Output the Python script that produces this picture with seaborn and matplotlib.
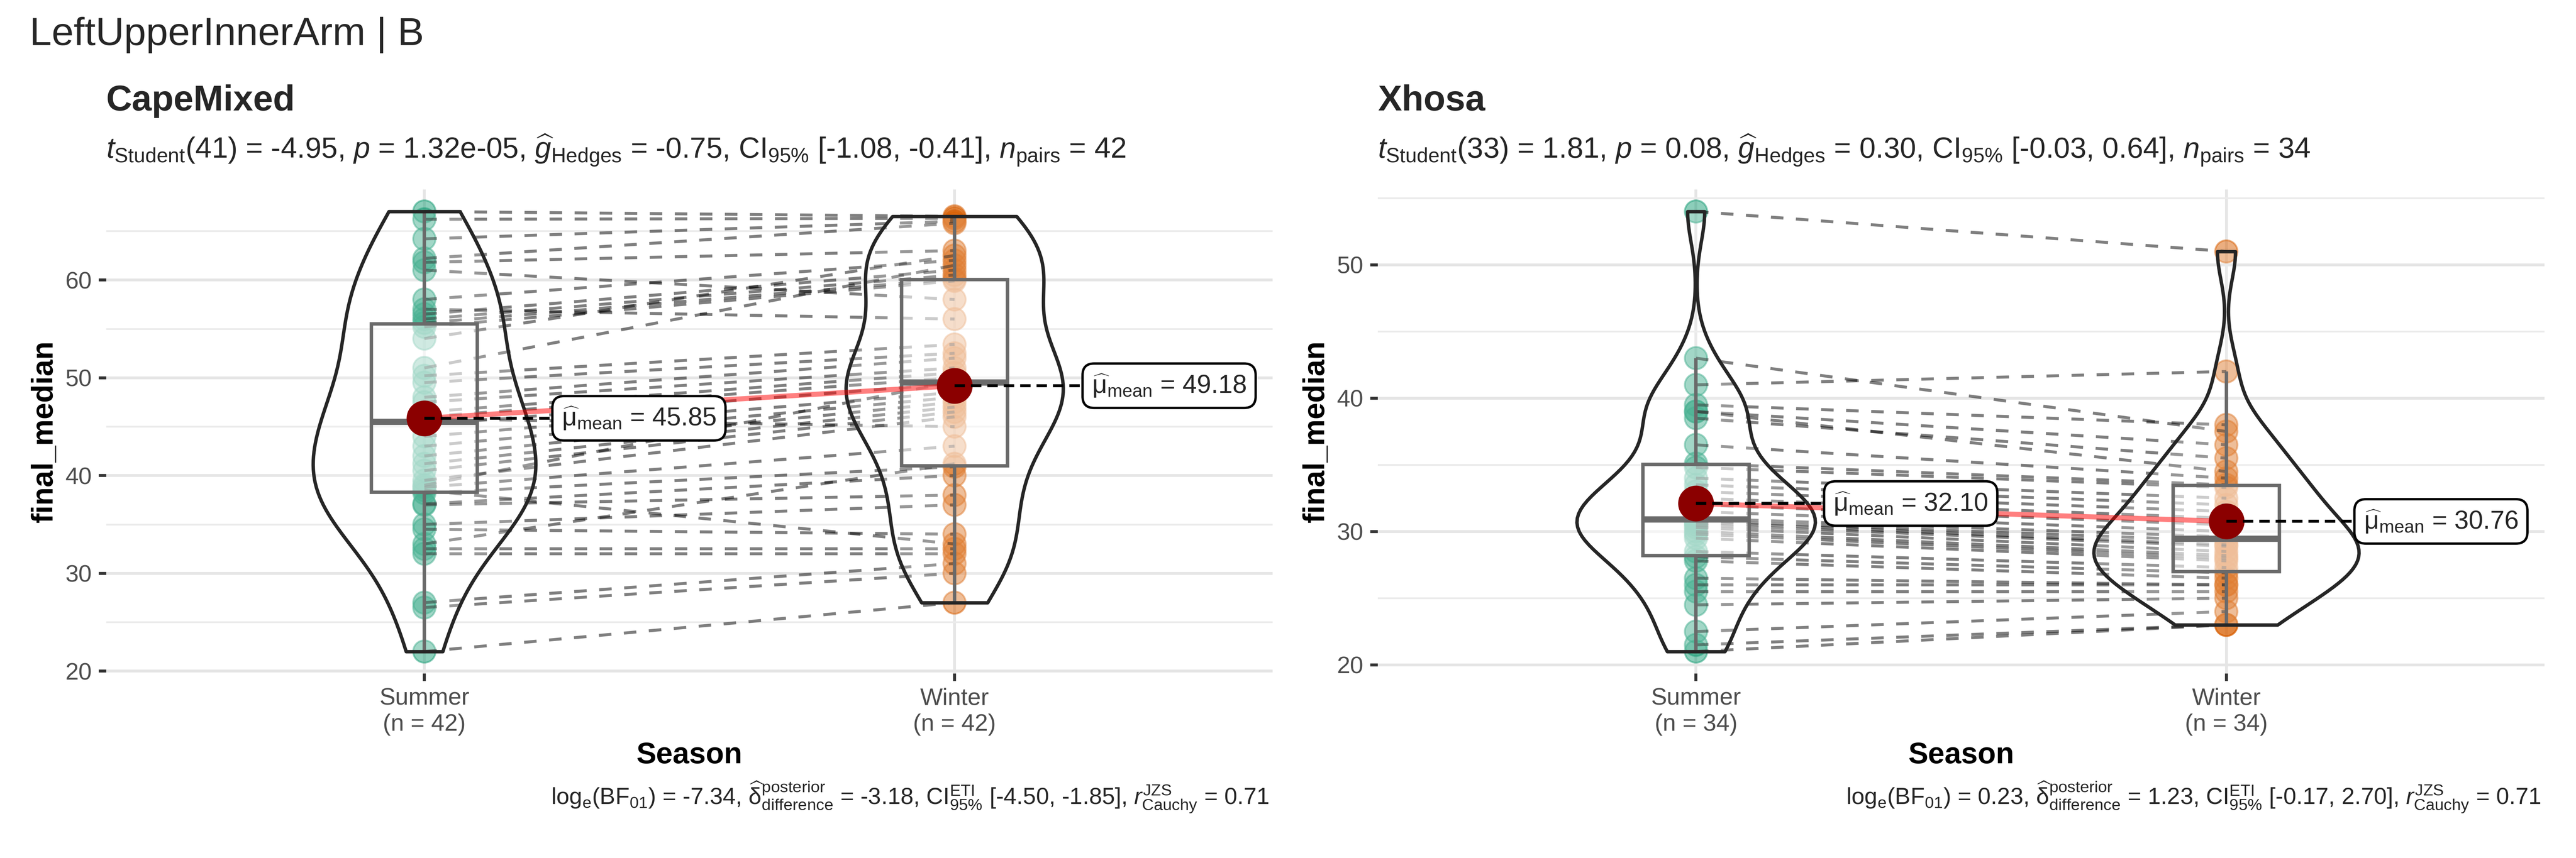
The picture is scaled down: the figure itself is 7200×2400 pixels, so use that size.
import numpy as np
import pandas as pd
import matplotlib
matplotlib.use("Agg")
import matplotlib.pyplot as plt
import seaborn as sns

# ------------------------------------------------------------
# data (one value per subject; the i-th
# summer value and the i-th winter value belong to the same subject)
# ------------------------------------------------------------
seasons = ["Summer", "Winter"]
season_colors = {"Summer": "#1B9E77", "Winter": "#D95F02"}

cape_summer = [67.0, 66.2, 64.2, 62.2, 61.8, 61.0, 58.0, 57.0, 56.5, 56.0,
               55.6, 55.2, 54.0, 51.0, 50.2, 49.5, 48.0, 47.5, 46.5, 46.0,
               45.8, 45.2, 44.0, 43.0, 42.0, 41.2, 40.5, 39.5, 39.0, 38.8,
               38.5, 38.2, 37.1, 37.0, 35.0, 34.5, 33.0, 32.5, 32.0, 27.0,
               26.5, 22.0]
cape_winter = [66.5, 66.3, 66.0, 65.8, 63.0, 58.0, 62.0, 56.0, 61.0, 60.5,
               60.1, 59.9, 62.5, 61.5, 53.4, 52.5, 52.0, 51.0, 50.5, 50.0,
               45.0, 49.4, 48.5, 48.0, 47.5, 47.0, 46.5, 46.0, 49.6, 43.0,
               33.0, 40.9, 40.0, 38.0, 37.0, 34.0, 41.2, 32.5, 32.0, 31.0,
               30.0, 27.0]

xhosa_summer = [54.0, 43.0, 41.0, 39.5, 39.0, 39.0, 38.5, 36.5, 35.1, 34.8,
                34.0, 33.5, 33.0, 32.5, 32.0, 31.5, 31.0, 30.8, 30.7, 30.5,
                30.3, 30.0, 29.8, 29.5, 28.5, 28.1, 27.8, 26.5, 26.0, 25.5,
                24.5, 22.5, 21.5, 21.0]
xhosa_winter = [51.0, 37.5, 42.0, 38.0, 34.5, 36.5, 35.5, 34.0, 33.5, 33.3,
                32.5, 32.0, 31.5, 31.0, 30.5, 30.0, 29.6, 29.3, 29.0, 28.9,
                28.5, 28.2, 28.0, 27.8, 27.3, 26.9, 26.5, 26.0, 26.0, 25.5,
                25.0, 24.0, 23.0, 23.0]

groups = ["CapeMixed", "Xhosa"]
subtitles = [
    r"$t_{\mathrm{Student}}$(41) = -4.95, $p$ = 1.32e-05, $\widehat{g}_{\mathrm{Hedges}}$ = -0.75, "
    r"CI$_{\mathrm{95\%}}$ [-1.08, -0.41], $n_{\mathrm{pairs}}$ = 42",
    r"$t_{\mathrm{Student}}$(33) = 1.81, $p$ = 0.08, $\widehat{g}_{\mathrm{Hedges}}$ = 0.30, "
    r"CI$_{\mathrm{95\%}}$ [-0.03, 0.64], $n_{\mathrm{pairs}}$ = 34",
]
captions = [
    r"log$_{\mathrm{e}}$(BF$_{\mathrm{01}}$) = -7.34, $\widehat{\mathrm{\delta}}_{\mathrm{difference}}^{\mathrm{posterior}}$ = -3.18, "
    r"CI$_{\mathrm{95\%}}^{\mathrm{ETI}}$ [-4.50, -1.85], $r_{\mathrm{Cauchy}}^{\mathrm{JZS}}$ = 0.71",
    r"log$_{\mathrm{e}}$(BF$_{\mathrm{01}}$) = 0.23, $\widehat{\mathrm{\delta}}_{\mathrm{difference}}^{\mathrm{posterior}}$ = 1.23, "
    r"CI$_{\mathrm{95\%}}^{\mathrm{ETI}}$ [-0.17, 2.70], $r_{\mathrm{Cauchy}}^{\mathrm{JZS}}$ = 0.71",
]
y_major = [[20, 30, 40, 50, 60], [20, 30, 40, 50]]
y_minor = [[25, 35, 45, 55, 65], [25, 35, 45, 55]]
main_title = "LeftUpperInnerArm | B"

panel_data = {"CapeMixed": (cape_summer, cape_winter),
              "Xhosa": (xhosa_summer, xhosa_winter)}
violin_width = {"CapeMixed": 0.42, "Xhosa": 0.5}

# ------------------------------------------------------------
# style
# ------------------------------------------------------------
sns.set_theme(style="white")
plt.rcParams["font.family"] = ["Liberation Sans", "DejaVu Sans"]
plt.rcParams["mathtext.fontset"] = "custom"
plt.rcParams["mathtext.rm"] = "Liberation Sans"
plt.rcParams["mathtext.it"] = "Liberation Sans:italic"
plt.rcParams["mathtext.bf"] = "Liberation Sans:bold"
plt.rcParams["mathtext.sf"] = "Liberation Sans"


def nrd0(kde):
    # R's default bandwidth (bw.nrd0), as a factor of the sample sd
    x = np.asarray(kde.dataset).ravel()
    sd = x.std(ddof=1)
    q75, q25 = np.percentile(x, [75, 25])
    return 0.9 * min(sd, (q75 - q25) / 1.34) * len(x) ** -0.2 / sd


W, H = 7200, 2400
fig = plt.figure(figsize=(24, 8), dpi=300)
rects = [[297 / W, 1 - 1884 / H, 3260 / W, 1354 / H],
         [3851 / W, 1 - 1884 / H, 3261 / W, 1354 / H]]

fig.text(83 / W, 1 - 126 / H, main_title, fontsize=26.5, va="baseline", ha="left")

for k, g in enumerate(groups):
    summer, winter = panel_data[g]
    n = len(summer)
    df = pd.DataFrame({
        "rowid": list(range(n)) * 2,
        "Season": ["Summer"] * n + ["Winter"] * n,
        "final_median": list(summer) + list(winter),
    })

    ax = fig.add_axes(rects[k])

    # individual points
    sns.stripplot(data=df, x="Season", y="final_median", order=seasons,
                  hue="Season", hue_order=seasons, palette=season_colors,
                  jitter=False, size=15, alpha=0.5, linewidth=1.2,
                  edgecolor="face", legend=False, zorder=2, ax=ax)

    # paired lines
    for s, w in zip(summer, winter):
        ax.plot([0, 1], [s, w], color="black", alpha=0.5, lw=2.0,
                ls=(0, (4.2, 4.2)), zorder=2.5)

    # boxplot (semi transparent white fill)
    n_patches = len(ax.patches)
    sns.boxplot(data=df, x="Season", y="final_median", order=seasons,
                width=0.2, showfliers=False, showcaps=False, color="white",
                linecolor="#454545", linewidth=2.3, saturation=1,
                medianprops={"linewidth": 4.2}, zorder=3, ax=ax)
    for p in ax.patches[n_patches:]:
        p.set_facecolor((1, 1, 1, 0.5))

    # violin (very light white fill)
    n_coll = len(ax.collections)
    sns.violinplot(data=df, x="Season", y="final_median", order=seasons,
                   width=violin_width[g], cut=0, inner=None,
                   density_norm="area", bw_method=nrd0, color="white",
                   linecolor="#262626", linewidth=2.3, saturation=1, ax=ax)
    for c in ax.collections[n_coll:]:
        c.set_facecolor((1, 1, 1, 0.2))
        c.set_edgecolor("#262626")
        c.set_linewidth(2.3)
        c.set_zorder(4)

    # means
    means = df.groupby("Season")["final_median"].mean().reindex(seasons).values
    ax.plot([0, 1], means, color="red", alpha=0.5, lw=3.4, zorder=5,
            solid_capstyle="butt")
    ax.scatter([0, 1], means, s=24 ** 2, color="darkred", linewidths=0, zorder=6)
    for xi, m in enumerate(means):
        ax.plot([xi, xi + 0.245], [m, m], color="black", lw=2.0,
                ls=(0, (3.5, 2)), zorder=7)
        ax.text(xi + 0.259, m,
                r"$\widehat{\mathrm{\mu}}_{\mathrm{mean}}$ = " + f"{m:.2f}",
                ha="left", va="center", fontsize=17.3, zorder=8,
                bbox=dict(boxstyle="round,pad=0.36,rounding_size=0.45",
                          facecolor="white", edgecolor="black", linewidth=1.6))

    # axes cosmetics
    lo, hi = df["final_median"].min(), df["final_median"].max()
    pad = 0.05 * (hi - lo)
    ax.set_ylim(lo - pad, hi + pad)
    ax.set_xlim(-0.6, 1.6)
    ax.set_yticks(y_major[k])
    ax.set_yticks(y_minor[k], minor=True)
    ax.set_xticks([0, 1])
    ax.set_xticklabels([f"{s}\n(n = {n})" for s in seasons])

    ax.grid(False)
    ax.yaxis.grid(True, which="major", color="#E5E5E5", lw=1.9)
    ax.yaxis.grid(True, which="minor", color="#EBEBEB", lw=1.2)
    ax.xaxis.grid(True, which="major", color="#E5E5E5", lw=1.9)
    ax.set_axisbelow(True)
    for sp in ax.spines.values():
        sp.set_visible(False)
    ax.tick_params(axis="both", which="major", length=5, width=2,
                   color="#333333", labelsize=16, labelcolor="#4D4D4D",
                   pad=4.6, direction="out", bottom=True, left=True)
    ax.tick_params(which="minor", length=0)

    ax.set_xlabel("Season", fontsize=20, fontweight="bold", color="black")
    ax.set_ylabel("final_median", fontsize=20, fontweight="bold", color="black")
    ax.xaxis.set_label_coords(0.5, -(2074 - 1884) / 1354)
    ax.yaxis.set_label_coords(-133 / 3260, 0.5)

    # titles and captions
    x0 = rects[k][0]
    x1 = rects[k][0] + rects[k][2]
    fig.text(x0, 1 - 309 / H, g, fontsize=24, fontweight="bold",
             ha="left", va="baseline")
    fig.text(x0, 1 - 442 / H, subtitles[k], fontsize=19.6,
             ha="left", va="baseline")
    fig.text(x1 - 10 / W, 1 - 2250 / H, captions[k], fontsize=15.6,
             ha="right", va="baseline")

fig.savefig("out.png", dpi=300)
